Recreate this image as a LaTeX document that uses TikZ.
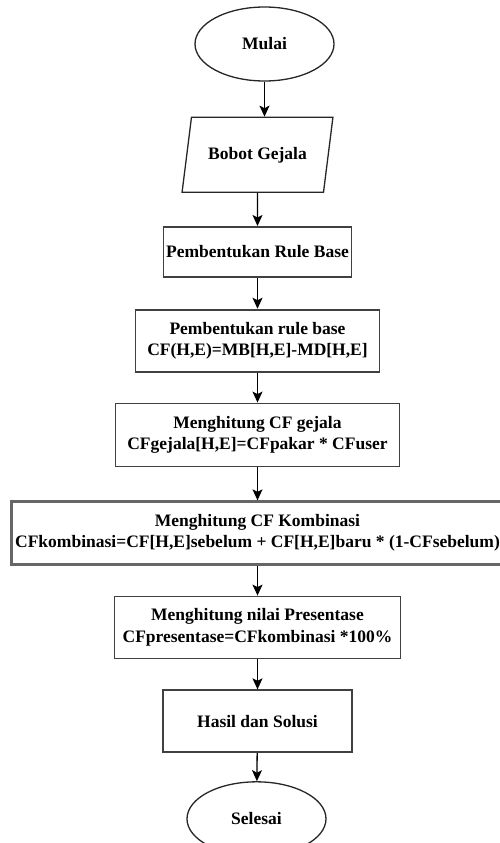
\documentclass[tikz,border=0pt]{standalone}
\usepackage{fontspec}
\setmainfont{Liberation Serif}
\usepackage{tikz}
\usetikzlibrary{positioning}
\usetikzlibrary{shapes.geometric,arrows.meta}

\begin{document}
\begin{tikzpicture}[x=1pt, y=1pt, >={Stealth[length=11pt,width=10pt,inset=2.5pt]},
    every node/.style = {font=\fontsize{17.5}{21.5}\selectfont\bfseries, align=center},
    terminal/.style = {draw=black!85, line width=1.3pt, ellipse, inner sep=0pt, minimum width=139pt, minimum height=74pt},
    io/.style = {draw=black!85, line width=1.3pt, trapezium, trapezium left angle=71.6, trapezium right angle=108.4, trapezium stretches=true, minimum width=151pt, minimum height=75pt},
    process/.style = {draw=black!75, line width=1.8pt, rectangle, inner xsep=2pt},
    arrow/.style = {->, line width=1.3pt}]
            \useasboundingbox (0,0) rectangle (499,-843);
            \node[terminal](mulai) at (264.5,-44){Mulai};
            \node[io](bobot)[below =35pt of mulai, xshift=-7pt]{Bobot Gejala};
            \node[process, minimum width=188pt, minimum height=50pt](rule)[below =33pt of bobot]{Pembentukan Rule Base};
            \node[process, minimum width=244pt, minimum height=62pt](cfhe)[below =31pt of rule]{Pembentukan rule base\\CF(H,E)=MB[H,E]-MD[H,E]};
            \node[process, minimum width=284pt, minimum height=63pt](gejala)[below =30pt of cfhe]{Menghitung CF gejala\\CFgejala[H,E]=CFpakar * CFuser};
            \node[process, draw=black!60, line width=2.2pt, minimum width=492pt, minimum height=63pt](kombinasi)[below =33pt of gejala]{Menghitung CF Kombinasi\\CFkombinasi=CF[H,E]sebelum + CF[H,E]baru * (1-CFsebelum)};
            \node[process, minimum width=286pt, minimum height=62pt](persen)[below =30pt of kombinasi]{Menghitung nilai Presentase\\CFpresentase=CFkombinasi *100\%};
            \node[process, minimum width=189pt, minimum height=62pt](hasil)[below =30pt of persen]{Hasil dan Solusi};
            \node[terminal](selesai)[below =28pt of hasil, xshift=-1pt]{Selesai};
            \draw[arrow] (mulai.south) -- (mulai.south |- bobot.north);
            \draw[arrow] (bobot) -- (rule);
            \draw[arrow] (rule) -- (cfhe);
            \draw[arrow] (cfhe) -- (gejala);
            \draw[arrow] (gejala) -- (kombinasi);
            \draw[arrow] (kombinasi) -- (persen);
            \draw[arrow] (persen) -- (hasil);
            \draw[arrow] (hasil) -- (selesai);
        \end{tikzpicture}
\end{document}
